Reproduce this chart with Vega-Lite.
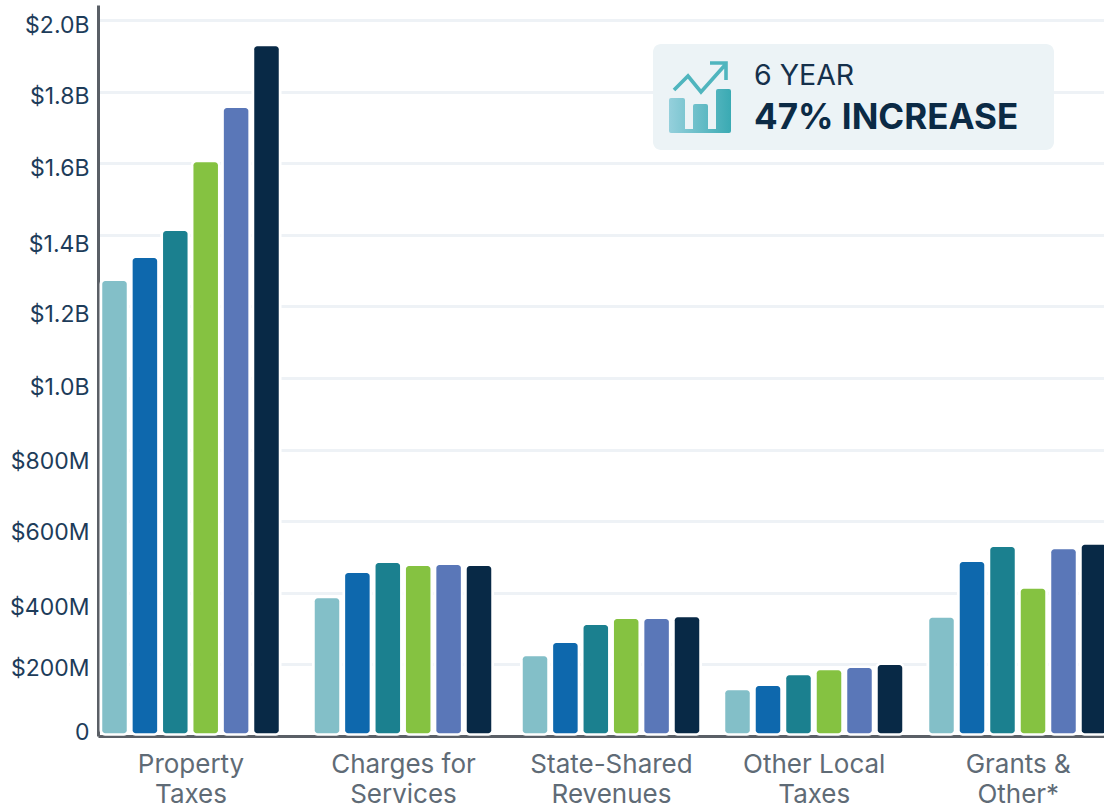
{
"$schema":"https://vega.github.io/schema/vega-lite/v6.json",
"autosize":{"type":"none"},
"width":1006,"height":731,
"padding":{"left":98,"top":5,"right":0,"bottom":69},
"background":"white",
"config":{"view":{"stroke":null},"font":"Inter"},
"data":{"values":[
{"category":"Property Taxes","series":"Year 1","value":1271000000},
{"category":"Property Taxes","series":"Year 2","value":1335000000},
{"category":"Property Taxes","series":"Year 3","value":1411000000},
{"category":"Property Taxes","series":"Year 4","value":1603000000},
{"category":"Property Taxes","series":"Year 5","value":1754000000},
{"category":"Property Taxes","series":"Year 6","value":1927000000},
{"category":"Charges for Services","series":"Year 1","value":385000000},
{"category":"Charges for Services","series":"Year 2","value":455000000},
{"category":"Charges for Services","series":"Year 3","value":483000000},
{"category":"Charges for Services","series":"Year 4","value":475000000},
{"category":"Charges for Services","series":"Year 5","value":478000000},
{"category":"Charges for Services","series":"Year 6","value":475000000},
{"category":"State-Shared Revenues","series":"Year 1","value":223000000},
{"category":"State-Shared Revenues","series":"Year 2","value":260000000},
{"category":"State-Shared Revenues","series":"Year 3","value":310000000},
{"category":"State-Shared Revenues","series":"Year 4","value":327000000},
{"category":"State-Shared Revenues","series":"Year 5","value":327000000},
{"category":"State-Shared Revenues","series":"Year 6","value":332000000},
{"category":"Other Local Taxes","series":"Year 1","value":128000000},
{"category":"Other Local Taxes","series":"Year 2","value":140000000},
{"category":"Other Local Taxes","series":"Year 3","value":170000000},
{"category":"Other Local Taxes","series":"Year 4","value":184000000},
{"category":"Other Local Taxes","series":"Year 5","value":190000000},
{"category":"Other Local Taxes","series":"Year 6","value":198000000},
{"category":"Grants & Other*","series":"Year 1","value":330000000},
{"category":"Grants & Other*","series":"Year 2","value":486000000},
{"category":"Grants & Other*","series":"Year 3","value":528000000},
{"category":"Grants & Other*","series":"Year 4","value":411000000},
{"category":"Grants & Other*","series":"Year 5","value":522000000},
{"category":"Grants & Other*","series":"Year 6","value":534000000}
]},
"transform":[{"calculate":"10*(indexof(['Property Taxes','Charges for Services','State-Shared Revenues','Other Local Taxes','Grants & Other*'],datum.category)+1)+indexof(['Year 1','Year 2','Year 3','Year 4','Year 5','Year 6'],datum.series)+1","as":"slot"}],
"encoding":{
"x":{"field":"slot","type":"quantitative","title":null,
 "scale":{"domain":[0,11,16,21,26,31,36,41,46,51,56,60],"range":[0,16.5,168.5,229,381,437,589,639.5,792,843.5,996,1006],"nice":false,"zero":false},
 "axis":{"values":[13.5,23.5,33.5,43.5,53.5],"domain":true,"domainColor":"#5a5f66","domainWidth":3,"ticks":false,"grid":false,"labelFont":"Inter","labelFontSize":26,"labelColor":"#5f6b76","labelPadding":28,"labelLineHeight":30,"labelOverlap":false,"labelFlush":false,"labelBound":false,"labelBaseline":"middle",
  "labelExpr":"[['Property','Taxes'],['Charges for','Services'],['State-Shared','Revenues'],['Other Local','Taxes'],['Grants &','Other*']][floor(datum.value/10)-1]"}},
"y":{"field":"value","type":"quantitative","title":null,
 "scale":{"domain":[0,2042000000],"nice":false},
 "axis":{"values":[0,200000000,400000000,600000000,800000000,1000000000,1200000000,1400000000,1600000000,1800000000,2000000000],
  "domain":true,"domainColor":"#5a5f66","domainWidth":3,"ticks":false,"grid":true,"gridColor":"#eef2f6","gridWidth":3,
  "labelFont":"Inter","labelFontSize":23,"labelColor":"#1d3c5a","labelPadding":9,"labelBound":false,"labelFlush":false,
  "labelExpr":"datum.value==0?'0':(datum.value<1e9?'$'+datum.value/1e6+'M':'$'+format(datum.value/1e9,'.1f')+'B')",
  "labelOffset":{"condition":[
   {"test":"datum.value==0","value":-4},
   {"test":"datum.value==2e8","value":4},
   {"test":"datum.value==4e8","value":15},
   {"test":"datum.value==6e8","value":11},
   {"test":"datum.value==8e8","value":12},
   {"test":"datum.value==1e9","value":9},
   {"test":"datum.value==1.2e9","value":8},
   {"test":"datum.value==1.4e9","value":10}
  ],"value":5}}},
"y2":{"datum":8000000}
},
"layer":[
{"mark":{"type":"bar","size":25,"fill":"white","stroke":"white","strokeWidth":5,"cornerRadius":3}},
{"mark":{"type":"bar","size":24.5,"cornerRadius":3},
 "encoding":{"color":{"field":"series","type":"nominal","legend":null,"scale":{"range":["#83bfc8","#0e68ad","#1b808f","#85c241","#5a77b8","#082946"]}}}},
{"data":{"values":[{}]},"transform":[],"mark":{"type":"rect","fill":"#ecf3f6","cornerRadius":8,"x":555,"x2":956,"y":39,"y2":145},"encoding":{"x":null,"y":null,"y2":null}},
{"data":{"values":[{}]},"transform":[],"mark":{"type":"point","x":602,"y":93,"size":4,"filled":true,"opacity":1,"shape":"M-31 2Q-31 0 -29 0L-17 0Q-15 0 -15 2L-15 31L-7 31L-7 8Q-7 6 -5 6L6 6Q8 6 8 8L8 31L16 31L16 -7Q16 -9 18 -9L29 -9Q31 -9 31 -7L31 33Q31 35 29 35L-29 35Q-31 35 -31 33Z",
 "fill":{"gradient":"linear","x1":0,"x2":1,"y1":0,"y2":0,"stops":[{"offset":0,"color":"#95d0dc"},{"offset":1,"color":"#3aaab3"}]}},"encoding":{"x":null,"y":null,"y2":null}},
{"data":{"values":[{}]},"transform":[],"mark":{"type":"point","x":602,"y":93,"size":4,"filled":false,"opacity":1,"strokeWidth":3.6,"stroke":"#4fb5be","shape":"M-26 -8L-12 -22L1 -6L25 -33M10 -35L26 -35L26 -18"},"encoding":{"x":null,"y":null,"y2":null}},
{"data":{"values":[{"label":"6 YEAR"}]},"transform":[],"mark":{"type":"text","x":656,"y":80,"align":"left","baseline":"alphabetic","font":"Inter","fontSize":28.5,"fontWeight":400,"color":"#15304b"},"encoding":{"x":null,"y":null,"y2":null,"text":{"field":"label"}}},
{"data":{"values":[{"label":"47% INCREASE"}]},"transform":[],"mark":{"type":"text","x":656,"y":124,"align":"left","baseline":"alphabetic","font":"Inter","fontSize":35,"fontWeight":700,"color":"#0b2a45"},"encoding":{"x":null,"y":null,"y2":null,"text":{"field":"label"}}}
]
}
